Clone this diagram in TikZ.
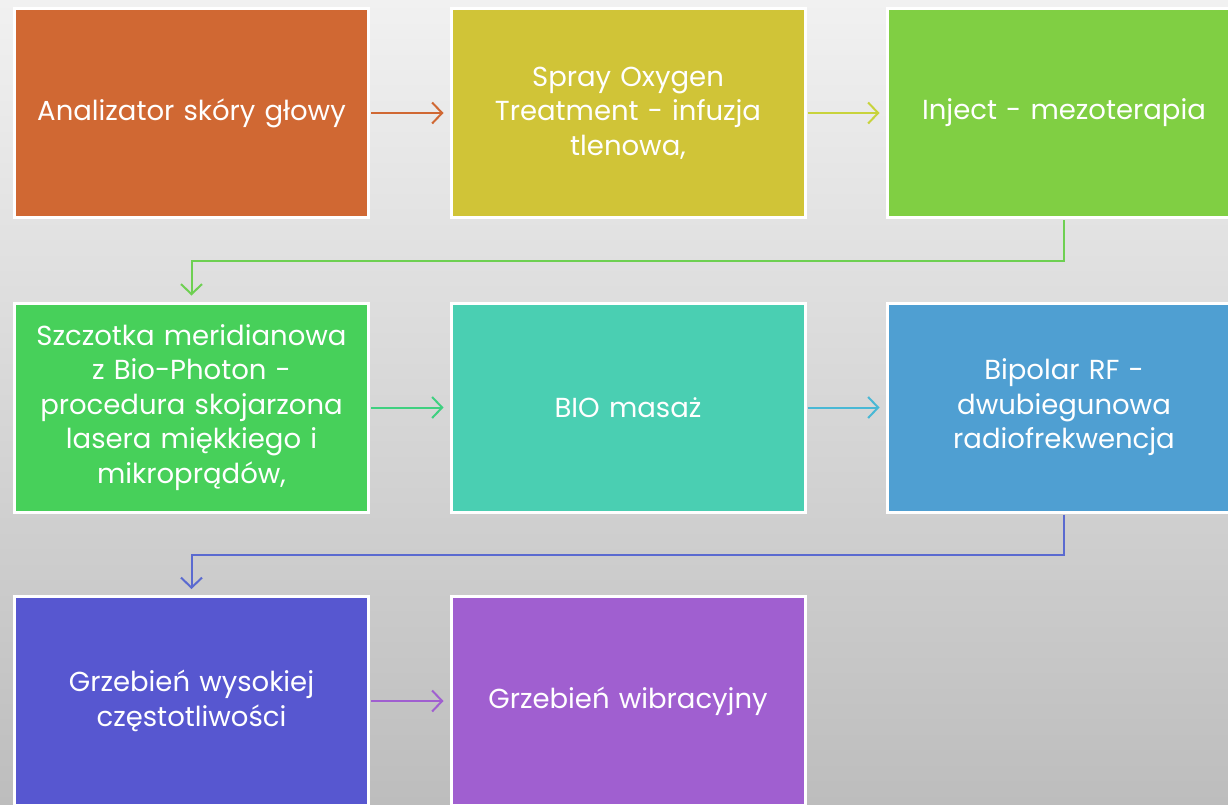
\documentclass[tikz,border=0pt]{standalone}
\usepackage{fontspec}
\setmainfont{Poppins}
\usetikzlibrary{arrows.meta}
\begin{document}
\begin{tikzpicture}[x=1pt,y=-1pt,line cap=rect,
  stepbox/.style={draw=white,line width=3pt,minimum width=354pt,minimum height=209pt,
    inner sep=0pt,text width=345pt,align=center,text=white,
    font=\fontsize{27.5pt}{34.5pt}\selectfont},
  flow/.style={line width=2pt,line cap=butt,-{Straight Barb[length=10pt,width=21pt]},shorten >=6pt,shorten <=1pt}]
\definecolor{custcol_orange}{RGB}{208, 104, 51}
\definecolor{custcol_yellow}{RGB}{208, 196, 55}
\definecolor{custcol_lime}{RGB}{128, 207, 67}
\definecolor{custcol_green}{RGB}{71, 208, 90}
\definecolor{custcol_teal}{RGB}{74, 207, 178}
\definecolor{custcol_blue}{RGB}{79, 159, 210}
\definecolor{custcol_indigo}{RGB}{87, 87, 208}
\definecolor{custcol_violet}{RGB}{160, 95, 208}
\definecolor{custcol_bgtop}{RGB}{241, 241, 241}
\definecolor{custcol_bgbot}{RGB}{189, 189, 189}
\definecolor{custcol_arr_yl}{RGB}{200, 211, 60}
\definecolor{custcol_arr_lg}{RGB}{110, 208, 82}
\definecolor{custcol_arr_gt}{RGB}{63, 208, 128}
\definecolor{custcol_arr_tb}{RGB}{73, 184, 213}
\definecolor{custcol_arr_bi}{RGB}{90, 106, 208}
\useasboundingbox (0,0) rectangle (1228,804);
\shade [top color=custcol_bgtop, bottom color=custcol_bgbot] (0,0) rectangle (1228,804);
% boxes
\node[stepbox, fill=custcol_orange] (skora) at (191.5,113.0) {Analizator skóry głowy};
\node[stepbox, fill=custcol_yellow] (spray) at (628.0,113.0) {Spray Oxygen\\Treatment - infuzja\\tlenowa,};
\node[stepbox, fill=custcol_lime] (inject) at (1064.0,113.0) {Inject - mezoterapia};
\node[stepbox, fill=custcol_green] (szczotka) at (191.5,407.5) {Szczotka meridianowa\\z Bio-Photon -\\procedura skojarzona\\lasera miękkiego i\\mikroprądów,};
\node[stepbox, fill=custcol_teal] (masaz) at (628.0,407.5) {BIO masaż};
\node[stepbox, fill=custcol_blue] (bipolar) at (1064.0,407.5) {Bipolar RF -\\dwubiegunowa\\radiofrekwencja};
\node[stepbox, fill=custcol_indigo] (grzebien) at (191.5,701.0) {Grzebień wysokiej\\częstotliwości};
\node[stepbox, fill=custcol_violet] (wibracja) at (628.0,701.0) {Grzebień wibracyjny};
% connectors
\draw [flow, custcol_orange] (skora.east) -- (spray.west);
\draw [flow, custcol_arr_yl] (spray.east) -- (inject.west);
\draw [flow, custcol_arr_lg] (inject.south) -- ++(0,42) -| (szczotka.north);
\draw [flow, custcol_arr_gt] (szczotka.east) -- (masaz.west);
\draw [flow, custcol_arr_tb] (masaz.east) -- (bipolar.west);
\draw [flow, custcol_arr_bi] (bipolar.south) -- ++(0,41) -| (grzebien.north);
\draw [flow, custcol_violet] (grzebien.east) -- (wibracja.west);
\end{tikzpicture}
\end{document}
